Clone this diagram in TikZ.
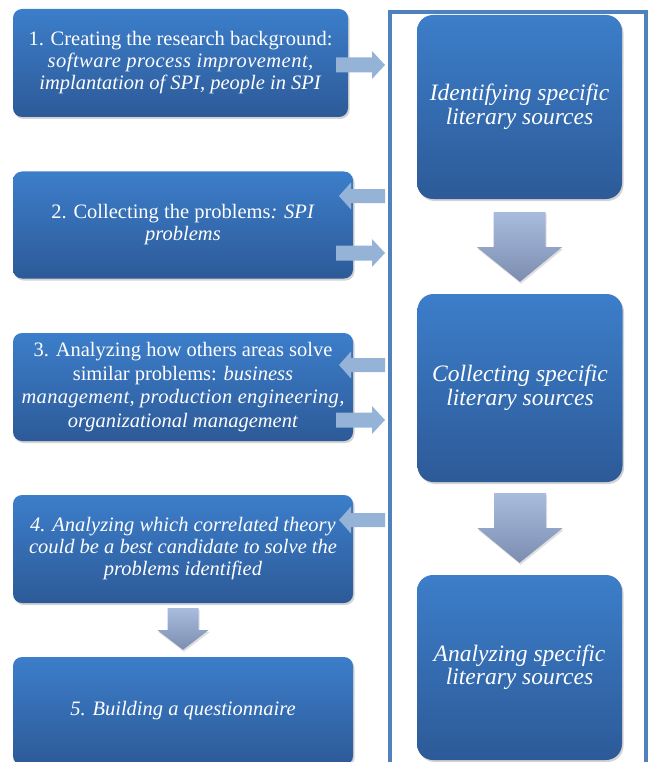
\documentclass[tikz,border=0pt]{standalone}
\usepackage{fontspec}
\setmainfont{Liberation Serif}
\newfontfamily\lsA[LetterSpace=2.3]{Liberation Serif}
\newfontfamily\lsB[LetterSpace=1.6]{Liberation Serif}
\usetikzlibrary{shadows,calc}
\definecolor{boxtop}{RGB}{60,126,202}
\definecolor{boxbot}{RGB}{45,90,152}
\definecolor{framec}{RGB}{79,129,189}
\definecolor{harrow}{RGB}{149,179,215}
\definecolor{darrowtop}{RGB}{168,188,222}
\definecolor{darrowbot}{RGB}{124,141,176}
\tikzset{
  stepbox/.style={rectangle, rounded corners=9pt, top color=boxtop, bottom color=boxbot,
    draw=none, text=white, align=center, inner sep=0pt,
    drop shadow={opacity=0.35, shadow xshift=1.5pt, shadow yshift=-2pt},
    font=\fontsize{20.5}{22}\selectfont},
  litbox/.style={stepbox, rounded corners=16pt, minimum width=205pt, minimum height=185pt,
    font=\fontsize{23.5}{23.5}\selectfont\itshape},
  hblock/.style={fill=harrow, draw=none},
  dblock/.style={top color=darrowtop, bottom color=darrowbot, draw=none,
    drop shadow={opacity=0.25, shadow xshift=1pt, shadow yshift=-2pt}},
}
\begin{document}
\begin{tikzpicture}[x=1pt,y=-1pt]
\useasboundingbox (0,0) rectangle (651,762);
\clip (0,0) rectangle (651,762);
% frame
\draw[framec, line width=4pt] (389.5,12) rectangle (646,780);
% left boxes
\node[stepbox, minimum width=335pt, minimum height=108pt] (b1) at (180.5,63)
  {1. Creating the research background:\\ {\lsA\itshape software process improvement,}\\ \textit{implantation of SPI, people in SPI}};
\node[stepbox, minimum width=340pt, minimum height=107pt] (b2) at (183,225)
  {2. Collecting the problems\textit{: SPI}\\ \textit{problems}};
\node[stepbox, minimum width=340pt, minimum height=108pt, font=\fontsize{20.5}{23.5}\selectfont] (b3) at (183,387)
  {3. Analyzing how others areas solve\\ similar problems: \textit{business}\\ {\lsB\itshape management, production engineering,}\\ \textit{organizational management}};
\node[stepbox, minimum width=340pt, minimum height=108pt] (b4) at (183,549)
  {\itshape 4. Analyzing which correlated theory\\ \itshape could be a best candidate to solve the\\ \itshape problems identified};
\node[stepbox, minimum width=340pt, minimum height=108pt] (b5) at (183,711)
  {\itshape 5. Building a questionnaire};
% right boxes
\node[litbox, minimum height=184pt] (r1) at (519.5,107) {Identifying specific\\ literary sources};
\node[litbox, minimum height=188pt] (r2) at (520,388) {Collecting specific\\ literary sources};
\node[litbox] (r3) at (519.5,667.5) {Analyzing specific\\ literary sources};
% horizontal block arrows (tips)
\coordinate (t1) at (385,65);
\coordinate (t2) at (339,196);
\coordinate (t3) at (385,253);
\coordinate (t4) at (339,365);
\coordinate (t5) at (385,420);
\coordinate (t6) at (339,520);
\foreach \t in {t1,t3,t5}{
  \fill[hblock] ($(\t)$) -- ++(-13,-14) -- ++(0,6.5) -- ++(-36,0) -- ++(0,15) -- ++(36,0) -- ++(0,6.5) -- cycle;
}
\foreach \t in {t2,t4,t6}{
  \fill[hblock] ($(\t)$) -- ++(12,-13.5) -- ++(0,6.5) -- ++(34,0) -- ++(0,14) -- ++(-34,0) -- ++(0,6.5) -- cycle;
}
% vertical block arrows
\path[dblock] ($(r1.south)+(-26,13)$) -- ++(52,0) -- ++(0,35) -- ++(16.5,0) -- ($(r2.north)+(0,-12)$)
  -- ($(r1.south)+(-42.5,48)$) -- ++(16.5,0) -- cycle;
\path[dblock] ($(r2.south)+(-26,11)$) -- ++(52,0) -- ++(0,35) -- ++(16.5,0) -- ($(r3.north)+(0,-12)$)
  -- ($(r2.south)+(-42.5,46)$) -- ++(16.5,0) -- cycle;
\path[dblock] ($(b4.south)+(-15.5,5)$) -- ++(31,0) -- ++(0,22) -- ++(10,0) -- ($(b5.north)+(0,-7)$)
  -- ($(b4.south)+(-25.5,27)$) -- ++(10,0) -- cycle;
\end{tikzpicture}
\end{document}
